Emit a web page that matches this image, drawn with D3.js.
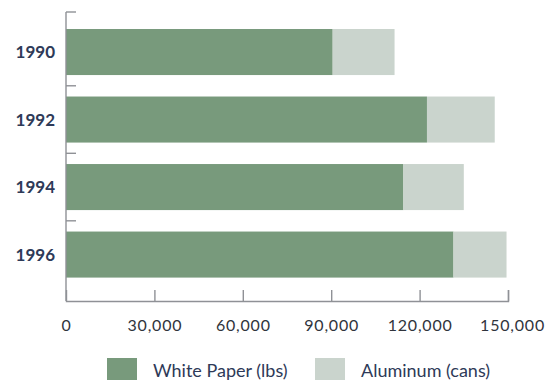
<!DOCTYPE html>
<html>
<head>
<meta charset="utf-8">
<script src="https://cdn.jsdelivr.net/npm/d3@7"></script>
<style>
  html, body { margin: 0; padding: 0; background: #fff; }
  svg { display: block; }
</style>
</head>
<body>
<svg id="chart" width="545" height="383"></svg>
<script>
// Recycling totals by year
const years = ["1990", "1992", "1994", "1996"];
const whitePaper = [90500, 122500, 114500, 131500];   // lbs
const aluminum = [21000, 23000, 20500, 18000];        // cans
const xTicks = [0, 30000, 60000, 90000, 120000, 150000];
const seriesNames = ["White Paper (lbs)", "Aluminum (cans)"];
const seriesColors = ["#789a7c", "#cad4cd"];

const svg = d3.select("#chart");
const plotLeft = 66, plotRight = 508, plotTop = 12, axisY = 301;
const font = "Lato, 'Open Sans', sans-serif";

const x = d3.scaleLinear().domain([0, 150000]).range([plotLeft, plotRight]);
const y = d3.scaleBand().domain(years).range([plotTop, 294.6]).paddingInner(0.318).paddingOuter(0.252);

const rows = years.map((yr, i) => ({ year: yr, paper: whitePaper[i], alum: aluminum[i] }));
const stacked = d3.stack().keys(["paper", "alum"])(rows);

// stacked bars
svg.append("g").selectAll("g")
  .data(stacked)
  .join("g")
  .attr("fill", (d, i) => seriesColors[i])
  .selectAll("rect")
  .data(d => d)
  .join("rect")
  .attr("x", d => x(d[0]))
  .attr("width", d => x(d[1]) - x(d[0]))
  .attr("y", d => y(d.data.year))
  .attr("height", y.bandwidth());

// left axis line with small ticks between the bars
const axisColor = "#8f9196";
svg.append("line")
  .attr("x1", plotLeft).attr("x2", plotLeft)
  .attr("y1", plotTop).attr("y2", axisY)
  .attr("stroke", axisColor).attr("stroke-width", 1.4);
const sepY = years.map(yr => y(yr) - y.step() * y.paddingInner() / 2);
sepY[0] = plotTop;
svg.append("g").selectAll("line")
  .data(sepY)
  .join("line")
  .attr("x1", plotLeft).attr("x2", plotLeft + 10)
  .attr("y1", d => d).attr("y2", d => d)
  .attr("stroke", axisColor).attr("stroke-width", 1.4);

// year labels
svg.append("g").selectAll("text")
  .data(years)
  .join("text")
  .attr("x", 55)
  .attr("y", d => y(d) + y.bandwidth() / 2 + 6)
  .attr("text-anchor", "end")
  .attr("font-family", font)
  .attr("font-weight", "bold")
  .attr("font-size", 17)
  .attr("fill", "#2e3a58")
  .text(d => d);

// bottom axis, ticks pointing up
const xAxis = d3.axisBottom(x)
  .tickValues(xTicks)
  .tickSize(-11)
  .tickPadding(18.6)
  .tickFormat(d3.format(","));
const gx = svg.append("g")
  .attr("transform", `translate(0,${axisY})`)
  .call(xAxis);
gx.select(".domain").attr("stroke", axisColor).attr("stroke-width", 1.4);
gx.selectAll(".tick line").attr("stroke", axisColor).attr("stroke-width", 1.4);
gx.selectAll(".tick text")
  .attr("font-family", font)
  .attr("font-size", 16)
  .attr("letter-spacing", 0.8)
  .attr("fill", "#30343c");
gx.selectAll(".tick").filter(d => d === 0).select("line").remove();
gx.selectAll(".tick").filter(d => d === 150000).select("text").attr("dx", 4);

// legend
const legendX = [107, 315];
const legend = svg.append("g").selectAll("g")
  .data(seriesNames)
  .join("g")
  .attr("transform", (d, i) => `translate(${legendX[i]},358)`);
legend.append("rect")
  .attr("width", 30).attr("height", 22)
  .attr("fill", (d, i) => seriesColors[i]);
legend.append("text")
  .attr("x", 46).attr("y", 19)
  .attr("font-family", font)
  .attr("font-size", 18)
  .attr("fill", "#2e3a58")
  .text(d => d);
</script>
</body>
</html>
